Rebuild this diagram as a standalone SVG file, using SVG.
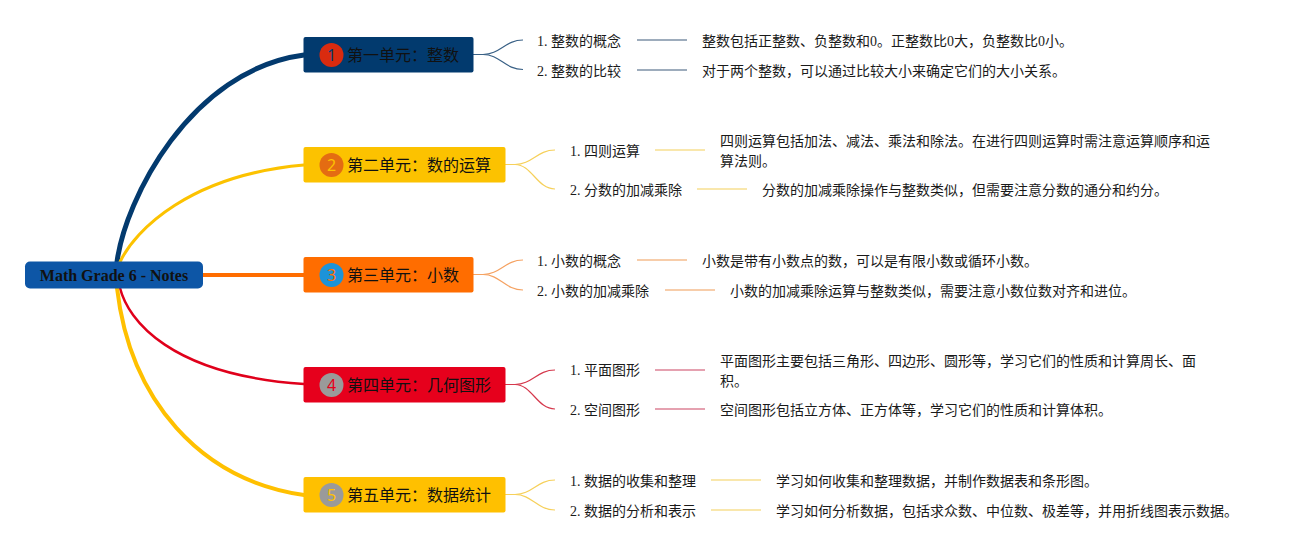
<svg xmlns="http://www.w3.org/2000/svg" width="1298" height="550" viewBox="0 0 1298 550">
<style>
.root{font-family:"Liberation Serif","Noto Sans CJK SC",serif;font-weight:bold;font-size:16px;fill:#111}
.title{font-family:"Noto Sans CJK SC","Noto Sans",sans-serif;font-size:16px;fill:#111}
.num{font-family:"Noto Sans","Noto Sans CJK SC",sans-serif;font-size:16px;text-anchor:middle}
.lbl{font-family:"Liberation Serif","Noto Sans CJK SC",serif;font-size:14px;fill:#1a1a1a}
.sub{fill:none;stroke-width:1.2}
.hl{fill:none;stroke-width:1.5}
.main{fill:none;stroke-linecap:round}
</style>
<rect width="1298" height="550" fill="#ffffff"/>
<g id="connectors">
  <path class="main" d="M117,262 C125,200 190,70 304,55" stroke="#033a6e" stroke-width="5"/>
  <path class="main" d="M120,262 C135,230 190,175 304,165" stroke="#fcc200" stroke-width="3"/>
  <path class="main" d="M203,275 L304,275" stroke="#ff6d00" stroke-width="4"/>
  <path class="main" d="M120,288 C128,320 170,375 304,384" stroke="#e0001b" stroke-width="2.5"/>
  <path class="main" d="M117,288 C130,400 200,480 304,495" stroke="#ffc000" stroke-width="4"/>
  <g stroke="#3a6186">
    <path class="sub" d="M473,54.5 L483,54.5 C500,54.5 505,40 523,40"/>
    <path class="sub" d="M483,54.5 C500,54.5 505,69.5 523,69.5"/>
  </g>
  <g stroke="#7d91a6">
    <line class="hl" x1="637" y1="40" x2="687" y2="40"/>
    <line class="hl" x1="637" y1="70" x2="687" y2="70"/>
  </g>
  <g stroke="#f6d05a">
    <path class="sub" d="M505,164.5 L515,164.5 C532,164.5 537,150 555,150"/>
    <path class="sub" d="M515,164.5 C532,164.5 537,189 555,189"/>
  </g>
  <g stroke="#f7df90">
    <line class="hl" x1="655" y1="150" x2="705" y2="150"/>
    <line class="hl" x1="697" y1="189" x2="747" y2="189"/>
  </g>
  <g stroke="#f5a262">
    <path class="sub" d="M473,274.5 L483,274.5 C500,274.5 505,260 523,260"/>
    <path class="sub" d="M483,274.5 C500,274.5 505,290 523,290"/>
  </g>
  <g stroke="#f4bc8e">
    <line class="hl" x1="637" y1="260" x2="687" y2="260"/>
    <line class="hl" x1="665" y1="290" x2="715" y2="290"/>
  </g>
  <g stroke="#d5384c">
    <path class="sub" d="M505,384.5 L515,384.5 C532,384.5 537,370 555,370"/>
    <path class="sub" d="M515,384.5 C532,384.5 537,409 555,409"/>
  </g>
  <g stroke="#dc8296">
    <line class="hl" x1="655" y1="370" x2="705" y2="370"/>
    <line class="hl" x1="655" y1="409" x2="705" y2="409"/>
  </g>
  <g stroke="#f6d05a">
    <path class="sub" d="M505,494.5 L515,494.5 C532,494.5 537,480 555,480"/>
    <path class="sub" d="M515,494.5 C532,494.5 537,510 555,510"/>
  </g>
  <g stroke="#f7df90">
    <line class="hl" x1="711" y1="480" x2="761" y2="480"/>
    <line class="hl" x1="711" y1="510" x2="761" y2="510"/>
  </g>
</g>
<g id="root">
  <rect x="25" y="261.5" width="178" height="27" rx="5" fill="#0d56a6"/>
  <text class="root" x="114" y="280.5" text-anchor="middle">Math Grade 6 - Notes</text>
</g>
<g id="unit1">
  <rect x="303.5" y="37" width="170" height="35.5" rx="2" fill="#023a6e"/>
  <circle cx="331.5" cy="55" r="12" fill="#d92b0f"/>
  <text class="num" x="331.5" y="60.5" fill="#023a6e">1</text>
  <text class="title" x="347" y="60.5">第一单元：整数</text>
</g>
<g id="unit2">
  <rect x="303.5" y="147" width="202" height="35.5" rx="2" fill="#fcc200"/>
  <circle cx="331.5" cy="165" r="12" fill="#e46c12"/>
  <text class="num" x="331.5" y="170.5" fill="#fcc200">2</text>
  <text class="title" x="347" y="170.5">第二单元：数的运算</text>
</g>
<g id="unit3">
  <rect x="303.5" y="257" width="170" height="35.5" rx="2" fill="#ff6d00"/>
  <circle cx="331.5" cy="275" r="12" fill="#1d93d8"/>
  <text class="num" x="331.5" y="280.5" fill="#ff6d00">3</text>
  <text class="title" x="347" y="280.5">第三单元：小数</text>
</g>
<g id="unit4">
  <rect x="303.5" y="367" width="202" height="35.5" rx="2" fill="#e6001c"/>
  <circle cx="331.5" cy="385" r="12" fill="#9a9a9a"/>
  <text class="num" x="331.5" y="390.5" fill="#e6001c">4</text>
  <text class="title" x="347" y="390.5">第四单元：几何图形</text>
</g>
<g id="unit5">
  <rect x="303.5" y="477" width="202" height="35.5" rx="2" fill="#ffc000"/>
  <circle cx="331.5" cy="495" r="12" fill="#9a9a9a"/>
  <text class="num" x="331.5" y="500.5" fill="#ffc000">5</text>
  <text class="title" x="347" y="500.5">第五单元：数据统计</text>
</g>
<g id="u1-c1">
  <text class="lbl" x="537" y="46">1. 整数的概念</text>
  <text class="lbl" x="702" y="46">整数包括正整数、负整数和0。正整数比0大，负整数比0小。</text>
</g>
<g id="u1-c2">
  <text class="lbl" x="537" y="76">2. 整数的比较</text>
  <text class="lbl" x="702" y="76">对于两个整数，可以通过比较大小来确定它们的大小关系。</text>
</g>
<g id="u2-c1">
  <text class="lbl" x="570" y="156">1. 四则运算</text>
  <text class="lbl" x="720" y="146">四则运算包括加法、减法、乘法和除法。在进行四则运算时需注意运算顺序和运</text>
  <text class="lbl" x="720" y="166">算法则。</text>
</g>
<g id="u2-c2">
  <text class="lbl" x="570" y="195">2. 分数的加减乘除</text>
  <text class="lbl" x="762" y="195">分数的加减乘除操作与整数类似，但需要注意分数的通分和约分。</text>
</g>
<g id="u3-c1">
  <text class="lbl" x="537" y="266">1. 小数的概念</text>
  <text class="lbl" x="702" y="266">小数是带有小数点的数，可以是有限小数或循环小数。</text>
</g>
<g id="u3-c2">
  <text class="lbl" x="537" y="296">2. 小数的加减乘除</text>
  <text class="lbl" x="730" y="296">小数的加减乘除运算与整数类似，需要注意小数位数对齐和进位。</text>
</g>
<g id="u4-c1">
  <text class="lbl" x="570" y="375">1. 平面图形</text>
  <text class="lbl" x="720" y="366">平面图形主要包括三角形、四边形、圆形等，学习它们的性质和计算周长、面</text>
  <text class="lbl" x="720" y="386">积。</text>
</g>
<g id="u4-c2">
  <text class="lbl" x="570" y="415">2. 空间图形</text>
  <text class="lbl" x="720" y="415">空间图形包括立方体、正方体等，学习它们的性质和计算体积。</text>
</g>
<g id="u5-c1">
  <text class="lbl" x="570" y="486">1. 数据的收集和整理</text>
  <text class="lbl" x="776" y="486">学习如何收集和整理数据，并制作数据表和条形图。</text>
</g>
<g id="u5-c2">
  <text class="lbl" x="570" y="516">2. 数据的分析和表示</text>
  <text class="lbl" x="776" y="516">学习如何分析数据，包括求众数、中位数、极差等，并用折线图表示数据。</text>
</g>
</svg>
